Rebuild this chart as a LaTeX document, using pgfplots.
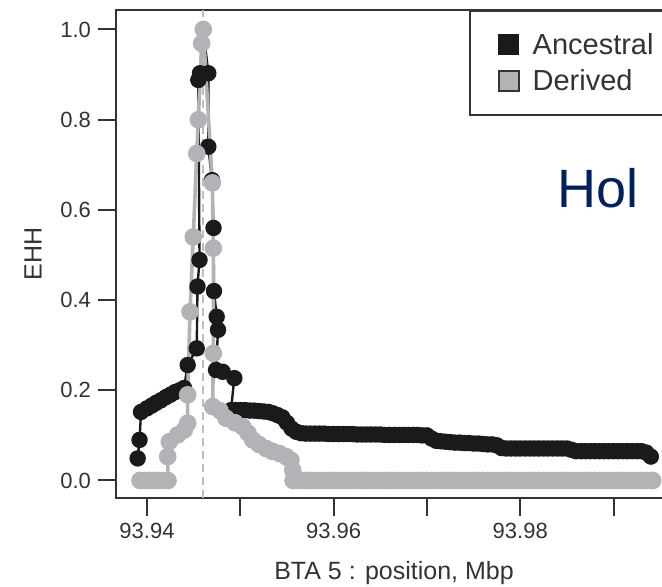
\documentclass[border=0pt]{standalone}
\usepackage{fontspec}
\setmainfont{Liberation Sans}
\usepackage{pgfplots}
\pgfplotsset{compat=1.18}

\definecolor{anc}{RGB}{26,26,26}
\definecolor{der}{RGB}{178,179,183}
\definecolor{hol}{RGB}{0,32,96}
\definecolor{frame}{RGB}{51,51,51}

% positions are kb past 93.94 Mbp (tick labels give the Mbp value)
\begin{document}
\begin{tikzpicture}
\useasboundingbox (-58pt,-44.5pt) rectangle (273pt,249pt);
\clip (-58pt,-44.5pt) rectangle (273pt,249pt);
\begin{axis}[
    at={(0pt,0pt)}, anchor=south west,
    scale only axis, width=278pt, height=244pt,
    xmin=-3.3226, xmax=56.27,
    ymin=-0.0388, ymax=1.0432,
    axis line style={frame, line width=1pt},
    tick align=outside,
    major tick length=9pt,
    tick style={frame, line width=1pt},
    xtick pos=bottom, ytick pos=left,
    xtick={0,10,20,30,40,50},
    xticklabels={93.94,,93.96,,93.98,},
    ytick={0,0.2,0.4,0.6,0.8,1.0},
    yticklabels={0.0,0.2,0.4,0.6,0.8,1.0},
    tick label style={font=\fontsize{11}{13}\selectfont, text=frame},
    xlabel={BTA 5 : position, Mbp},
    ylabel={EHH},
    label style={font=\fontsize{12.5}{15}\selectfont, text=frame},
    xlabel style={at={(axis description cs:0.5,-0.168)}, anchor=base},
    ylabel style={at={(axis description cs:-0.1336,0.5)}, anchor=base},
    legend cell align=left,
    legend style={at={(axis description cs:0.635,1)}, anchor=north west,
        draw=frame, line width=1pt, inner xsep=14pt, inner ysep=9pt,
        font=\fontsize{14.5}{17}\selectfont, text=frame,
        row sep=2pt, nodes={inner sep=2pt}},
]
% core SNP
\addplot[color={rgb,255:red,190;green,190;blue,192}, line width=0.8pt,
    dash pattern=on 4pt off 2.5pt, forget plot]
    coordinates {(6.0,-0.0388) (6.0,1.0432)};

\addplot[anc, line width=1.2pt, mark=*, mark size=3.5pt,
    mark options={draw=anc, fill=anc, solid},
    legend image code/.code={\draw[draw=anc, fill=anc, line width=0.5pt] (0pt,-5pt) rectangle (10pt,5pt); \path (14pt,0pt);}]
coordinates {
(-1.00,0.049) (-0.80,0.090) (-0.64,0.152) (0.00,0.160) (0.50,0.166)
(0.96,0.172) (1.50,0.178) (2.04,0.185) (2.50,0.190) (3.00,0.196)
(3.50,0.200) (3.97,0.205) (4.36,0.256) (5.33,0.293) (5.41,0.430)
(5.63,0.489) (5.50,0.888) (5.68,0.903) (6.03,1.000) (6.57,0.903)
(6.57,0.740) (6.97,0.666) (7.13,0.560) (7.18,0.420) (7.47,0.363)
(7.61,0.334) (7.40,0.245) (8.11,0.241) (9.36,0.227) (9.00,0.156)
(9.5,0.156) (10.0,0.156) (10.5,0.156) (11.0,0.155) (11.5,0.155)
(12.0,0.154) (12.5,0.153) (13.0,0.152) (13.5,0.149) (14.0,0.145)
(14.5,0.140) (15.0,0.128) (15.5,0.115) (16.0,0.108) (16.5,0.105)
(17,0.104) (17.5,0.104) (18,0.104) (18.5,0.104) (19,0.104)
(19.5,0.103) (20,0.103) (20.5,0.103) (21,0.103) (21.5,0.103) (22,0.103)
(22.5,0.102) (23,0.102) (23.5,0.102) (24,0.102) (24.5,0.102) (25,0.102)
(25.5,0.101) (26,0.101) (26.5,0.101) (27,0.101) (27.5,0.101) (28,0.101)
(28.5,0.101) (29,0.101) (29.5,0.100) (30,0.100) (30.5,0.093) (31,0.088)
(31.5,0.087) (32,0.086) (32.5,0.085) (33,0.084) (33.5,0.084) (34,0.083)
(34.5,0.083) (35,0.082) (35.5,0.082) (36,0.081) (36.5,0.080) (37,0.080)
(37.5,0.078) (38,0.072) (38.5,0.071) (39,0.071) (39.5,0.071) (40,0.071)
(40.5,0.071) (41,0.071) (41.5,0.071) (42,0.071) (42.5,0.071) (43,0.071)
(43.5,0.071) (44,0.071) (44.5,0.071) (45,0.071) (45.5,0.068) (46,0.065)
(46.5,0.065) (47,0.065) (47.5,0.065) (48,0.065) (48.5,0.065) (49,0.065)
(49.5,0.065) (50,0.065) (50.5,0.065) (51,0.065) (51.5,0.065) (52,0.065)
(52.5,0.065) (53,0.065) (53.5,0.062) (54.0,0.053)
};
\addlegendentry{Ancestral}

\addplot[der, line width=1.8pt, mark=*, mark size=3.5pt,
    mark options={draw=der, fill=der, solid},
    legend image code/.code={\draw[draw=frame, fill=der, line width=0.8pt] (0pt,-5pt) rectangle (10pt,5pt); \path (14pt,0pt);}]
coordinates {
(-0.75,0) (-0.25,0) (0.25,0) (0.75,0) (1.25,0) (1.75,0) (2.25,0)
(2.22,0.053) (2.39,0.086) (3.29,0.101) (4.00,0.112) (4.36,0.127)
(4.36,0.190) (4.61,0.374) (4.96,0.540) (5.33,0.725) (5.50,0.800)
(5.86,0.969) (6.03,1.000) (7.00,0.660) (7.11,0.515) (7.11,0.282)
(7.04,0.164) (7.82,0.155) (8.47,0.138) (9.43,0.128) (10.26,0.119)
(10.83,0.105) (11.33,0.090) (12.00,0.080) (12.75,0.071) (13.40,0.065)
(14.18,0.060) (14.90,0.053) (15.43,0.045) (15.62,0.023) (15.65,0)
(16,0) (16.5,0) (17,0) (17.5,0) (18,0) (18.5,0) (19,0) (19.5,0)
(20,0) (20.5,0) (21,0) (21.5,0) (22,0) (22.5,0) (23,0) (23.5,0)
(24,0) (24.5,0) (25,0) (25.5,0) (26,0) (26.5,0) (27,0) (27.5,0)
(28,0) (28.5,0) (29,0) (29.5,0) (30,0) (30.5,0) (31,0) (31.5,0)
(32,0) (32.5,0) (33,0) (33.5,0) (34,0) (34.5,0) (35,0) (35.5,0)
(36,0) (36.5,0) (37,0) (37.5,0) (38,0) (38.5,0) (39,0) (39.5,0)
(40,0) (40.5,0) (41,0) (41.5,0) (42,0) (42.5,0) (43,0) (43.5,0)
(44,0) (44.5,0) (45,0) (45.5,0) (46,0) (46.5,0) (47,0) (47.5,0)
(48,0) (48.5,0) (49,0) (49.5,0) (50,0) (50.5,0) (51,0) (51.5,0)
(52,0) (52.5,0) (53,0) (53.5,0) (54,0) (54.2,0)
};
\addlegendentry{Derived}

\node[font=\fontsize{27}{30}\selectfont, text=hol]
    at (axis description cs:0.867,0.635) {Hol};
\end{axis}
\end{tikzpicture}
\end{document}
